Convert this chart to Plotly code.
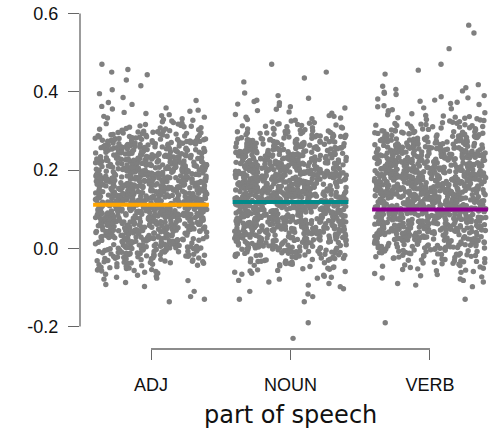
import plotly.graph_objects as go

# ---- data ----
categories = ["ADJ", "NOUN", "VERB"]
# centres of 0.02-wide value bins, from -0.23 to 0.57
bin_centers = [-0.23, -0.21, -0.19, -0.17, -0.15, -0.13, -0.11, -0.09, -0.07, -0.05,
               -0.03, -0.01, 0.01, 0.03, 0.05, 0.07, 0.09, 0.11, 0.13, 0.15,
               0.17, 0.19, 0.21, 0.23, 0.25, 0.27, 0.29, 0.31, 0.33, 0.35,
               0.37, 0.39, 0.41, 0.43, 0.45, 0.47, 0.49, 0.51, 0.53, 0.55, 0.57]
# number of words per bin, per part of speech (estimated from the dot cloud)
adj_counts = [0, 0, 0, 0, 0, 3, 1, 4, 8, 16,
              28, 40, 50, 58, 64, 68, 72, 74, 75, 74,
              72, 70, 66, 60, 52, 42, 30, 18, 10, 7,
              4, 2, 2, 1, 3, 1, 0, 0, 0, 0, 0]
noun_counts = [1, 0, 1, 0, 0, 3, 3, 5, 8, 14,
               24, 36, 46, 55, 62, 67, 71, 74, 75, 75,
               73, 70, 66, 60, 52, 42, 30, 18, 10, 6,
               6, 3, 0, 2, 1, 1, 0, 0, 0, 0, 0]
verb_counts = [0, 0, 1, 0, 0, 1, 0, 5, 7, 12,
               20, 30, 42, 52, 60, 66, 70, 73, 74, 74,
               73, 71, 67, 62, 55, 45, 35, 24, 14, 8,
               7, 7, 5, 0, 2, 1, 0, 1, 0, 1, 1]
group_means = [0.111, 0.118, 0.099]
mean_colors = ["#FFA500", "#008B8B", "#8B008B"]
y_tick_vals = [-0.2, 0.0, 0.2, 0.4, 0.6]
y_tick_text = ["-0.2", "0.0", "0.2", "0.4", "0.6"]
x_title = "part of speech"

counts_by_cat = [adj_counts, noun_counts, verb_counts]
positions = [1, 2, 3]
BIN_W = 0.02
JITTER = 0.4


def jitter_frac(i):
    """Deterministic integer hash -> [0, 1) used to spread dots sideways."""
    h = (i * 374761393 + 668265263) & 0xFFFFFFFF
    h = ((h ^ (h >> 13)) * 1274126177) & 0xFFFFFFFF
    h = h ^ (h >> 16)
    return h / 4294967296.0


fig = go.Figure()

for c, (pos, counts) in enumerate(zip(positions, counts_by_cat)):
    xs, ys = [], []
    idx = 1 + 10007 * c
    for center, n in zip(bin_centers, counts):
        for k in range(n):
            xs.append(pos + 2 * JITTER * (jitter_frac(idx) - 0.5))
            ys.append(center - BIN_W / 2 + BIN_W * (k + 0.5) / n)
            idx += 1
    fig.add_trace(go.Scatter(
        x=xs, y=ys, mode="markers",
        marker=dict(size=5.4, color="#7f7f7f", line=dict(width=0)),
        hoverinfo="skip", showlegend=False, cliponaxis=False))

for pos, m, col in zip(positions, group_means, mean_colors):
    fig.add_trace(go.Scatter(
        x=[pos - 0.415, pos + 0.415], y=[m, m], mode="lines",
        line=dict(color=col, width=4), showlegend=False, hoverinfo="skip"))

AXIS_COL = "#666666"
TICK_FONT = dict(family="Liberation Sans, Arial, sans-serif", size=18, color="#111111")

fig.update_layout(
    width=495, height=432,
    margin=dict(l=80, r=0, t=0, b=83),
    paper_bgcolor="white", plot_bgcolor="white",
    xaxis=dict(range=[0.491, 3.466], tickvals=positions, ticktext=categories,
               showgrid=False, zeroline=False, showline=False,
               ticks="outside", ticklen=10, tickwidth=1.3, tickcolor=AXIS_COL,
               tickfont=TICK_FONT, ticklabelstandoff=9),
    yaxis=dict(range=[-0.2572, 0.6342], tickvals=y_tick_vals, ticktext=y_tick_text,
               showgrid=False, zeroline=False, showline=False,
               ticks="outside", ticklen=11, tickwidth=1.3, tickcolor=AXIS_COL,
               tickfont=TICK_FONT, ticklabelstandoff=6),
    shapes=[
        dict(type="line", xref="paper", yref="y", x0=0, x1=0,
             y0=y_tick_vals[0], y1=y_tick_vals[-1],
             line=dict(color=AXIS_COL, width=1.3)),
        dict(type="line", xref="x", yref="paper", x0=positions[0], x1=positions[-1],
             y0=0, y1=0, line=dict(color=AXIS_COL, width=1.3)),
    ],
    annotations=[dict(text=x_title, xref="x", yref="paper", x=positions[1],
                      y=(349 - 415) / 349, yanchor="middle", xanchor="center",
                      showarrow=False,
                      font=dict(family="DejaVu Sans", size=24, color="#111111"))],
)

fig.write_html("out.html")
